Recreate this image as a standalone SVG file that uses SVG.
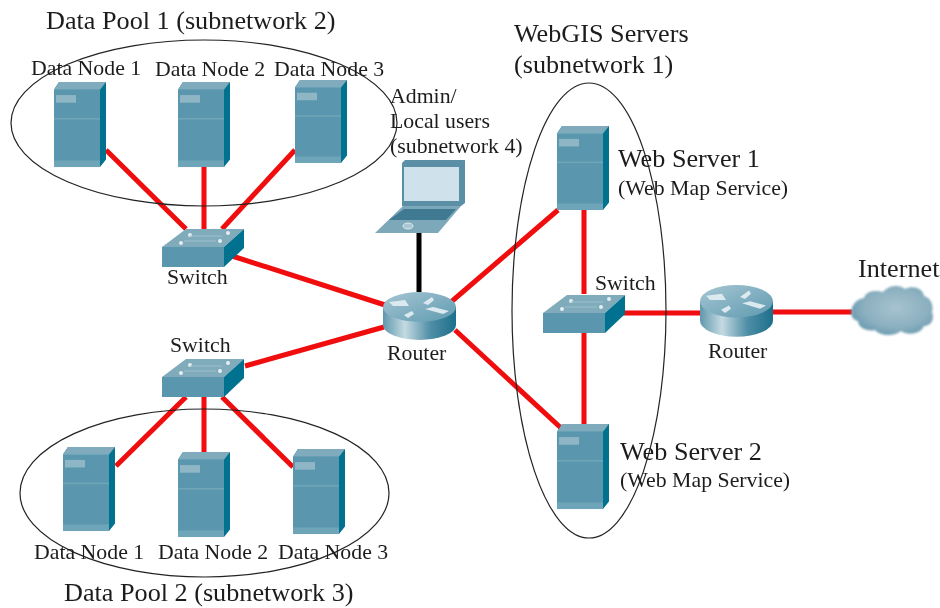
<svg xmlns="http://www.w3.org/2000/svg" width="940" height="608" viewBox="0 0 940 608">
<style>
text{font-family:"Liberation Serif","Times New Roman",serif;fill:#1c1c1c}
.t1{font-size:26.200px}.t3{font-size:21.800px}
.red{stroke:#ef0a0e;stroke-width:5;fill:none}
.blk{stroke:#000;stroke-width:5;fill:none}
.oval{fill:none;stroke:#222;stroke-width:1.2}
</style>
<defs>
<linearGradient id="rg" x1="0" x2="1" y1="0" y2="0"><stop offset="0" stop-color="#5f97ac"/><stop offset=".3" stop-color="#c4dae2"/><stop offset=".65" stop-color="#4f8ea6"/><stop offset="1" stop-color="#1d6f8b"/></linearGradient>
<linearGradient id="rt" x1="0" x2="1" y1="0" y2="1"><stop offset="0" stop-color="#a6c6d3"/><stop offset="1" stop-color="#5f9ab0"/></linearGradient>
<radialGradient id="cg" cx=".55" cy=".45" r=".65"><stop offset="0" stop-color="#a6c3cf"/><stop offset=".6" stop-color="#8cb0c0"/><stop offset="1" stop-color="#5f93a9"/></radialGradient>
<filter id="soft" x="-5%" y="-5%" width="110%" height="110%"><feGaussianBlur stdDeviation="1.200"/></filter>
<filter id="lens" filterUnits="userSpaceOnUse" x="0" y="0" width="940" height="608"><feGaussianBlur stdDeviation="0.400"/></filter>
<g id="server">
<path d="M0 7L5 0H52V71L46 78V7Z" fill="#05728f"/>
<path d="M0 7L5 0H52L46 7Z" fill="#7fabbc"/>
<rect x="0" y="7" width="46" height="71" fill="#5a97ae"/>
<rect x="0" y="72" width="46" height="6" fill="#6ea5b9"/>
<rect x="0" y="33" width="46" height="1.500" fill="#6ea5b9"/>
<rect x="2" y="12" width="20" height="7" fill="#8fb6c5"/>
</g>
<g id="switch">
<path d="M0 18L24 0H82L62 18Z" fill="#80abbb"/>
<rect x="0" y="18" width="62" height="20" fill="#5a97ae"/>
<path d="M62 18L82 0V19L62 38Z" fill="#05728f"/>
<g fill="#e4eef2"><circle cx="28" cy="6" r="2"/><circle cx="66" cy="4" r="2"/><circle cx="19" cy="14" r="2"/><circle cx="58" cy="12" r="2"/></g>
<path d="M28 7H60M22 12H54" stroke="#9dbfcc" stroke-width="1"/>
</g>
<g id="router">
<path d="M0 15V33A36.500 15 0 0 0 73 33V15Z" fill="url(#rg)"/>
<ellipse cx="36.500" cy="15" rx="36.500" ry="15" fill="url(#rt)"/>
<g fill="#dceaf0"><path d="M6 10L22 8L26 14L10 14Z"/><path d="M40 11L49 5L51 8L45 13Z"/><path d="M42 17L50 15L66 19L60 22Z"/><path d="M21 23L29 19L31 22L25 26Z"/></g>
</g>
</defs>
<rect width="940" height="608" fill="#fff"/>
<g filter="url(#lens)">
<g id="connectors">
<path class="red" d="M106 150L186 229M204 167V229M295 150L222 229M232 256L385 305"/>
<path class="red" d="M245 366L384 327M186 397L116 466M204 397V452M222 397L293 467"/>
<path class="red" d="M451 302L558 210M584 210V294M584 333V424M455 330L561 428"/>
<path class="red" d="M620 313H700M773 312H852"/>
<path class="blk" d="M419 233V292"/>
</g>
<g id="pool1"><ellipse class="oval" cx="204" cy="123" rx="193" ry="83"/><text class="t1" x="46" y="29">Data Pool 1 (subnetwork 2)</text></g>
<g id="pool2"><ellipse class="oval" cx="204.500" cy="493" rx="184.500" ry="84"/><text class="t1" x="64" y="601">Data Pool 2 (subnetwork 3)</text></g>
<g id="webgis"><ellipse class="oval" cx="589" cy="310.500" rx="77" ry="227.500"/><text class="t1" x="514" y="42">WebGIS Servers</text><text class="t1" x="514" y="73">(subnetwork 1)</text></g>
<g id="data-node-1-1"><use href="#server" transform="translate(54 82) scale(1 1.090)"/><text class="t3" x="31" y="75">Data Node 1</text></g>
<g id="data-node-1-2"><use href="#server" transform="translate(178 82) scale(1 1.090)"/><text class="t3" x="155" y="76">Data Node 2</text></g>
<g id="data-node-1-3"><use href="#server" transform="translate(295 80) scale(1 1.064)"/><text class="t3" x="274" y="76">Data Node 3</text></g>
<g id="switch-1"><use href="#switch" x="162" y="229"/><text class="t3" x="167" y="284">Switch</text></g>
<g id="switch-2"><use href="#switch" x="162" y="359"/><text class="t3" x="170" y="352">Switch</text></g>
<g id="switch-3"><use href="#switch" x="543" y="295"/><text class="t3" x="595" y="290">Switch</text></g>
<g id="data-node-2-1"><use href="#server" transform="translate(63 447) scale(1 1.077)"/><text class="t3" x="34" y="559">Data Node 1</text></g>
<g id="data-node-2-2"><use href="#server" transform="translate(178 452) scale(1 1.090)"/><text class="t3" x="158" y="559">Data Node 2</text></g>
<g id="data-node-2-3"><use href="#server" transform="translate(293 449) scale(1 1.090)"/><text class="t3" x="278" y="559">Data Node 3</text></g>
<g id="admin">
<path d="M402 163L405 160H465V203L461 206H402Z" fill="#5a8fa5"/>
<rect x="404" y="167" width="55" height="34" fill="#cfe1ea"/>
<path d="M375 233L403 206H461L438 233Z" fill="#7ba8ba"/>
<path d="M389 220L404 209H456L446 220Z" fill="#3f7a92"/>
<ellipse cx="408" cy="226" rx="5" ry="3" fill="#a9c8d4" stroke="#dceaf0"/>
<text class="t3" x="390" y="103">Admin/</text><text class="t3" x="390" y="128">Local users</text><text class="t3" x="390" y="153">(subnetwork 4)</text>
</g>
<g id="router-1"><use href="#router" x="383" y="292"/><text class="t3" x="387" y="360">Router</text></g>
<g id="router-2"><use href="#router" transform="translate(700 285) scale(1 1.080)"/><text class="t3" x="708" y="358">Router</text></g>
<g id="web-server-1"><use href="#server" transform="translate(557 126) scale(1 1.077)"/><text class="t1" x="618" y="167">Web Server 1</text><text class="t3" x="618" y="195">(Web Map Service)</text></g>
<g id="web-server-2"><use href="#server" transform="translate(557 424) scale(1 1.090)"/><text class="t1" x="620" y="460">Web Server 2</text><text class="t3" x="620" y="487">(Web Map Service)</text></g>
<g id="internet">
<path filter="url(#soft)" fill="url(#cg)" d="M851 312C852 303 858 299 864 298C866 290 878 290 883 292C888 285 900 284 905 289C912 285 923 288 924 296C931 298 934 306 932 312C935 319 931 326 924 326C921 334 908 336 901 331C894 337 880 336 875 330C868 332 858 328 858 321C853 320 851 316 851 312Z"/>
<text class="t1" x="858" y="277">Internet</text>
</g>
</g>
</svg>
